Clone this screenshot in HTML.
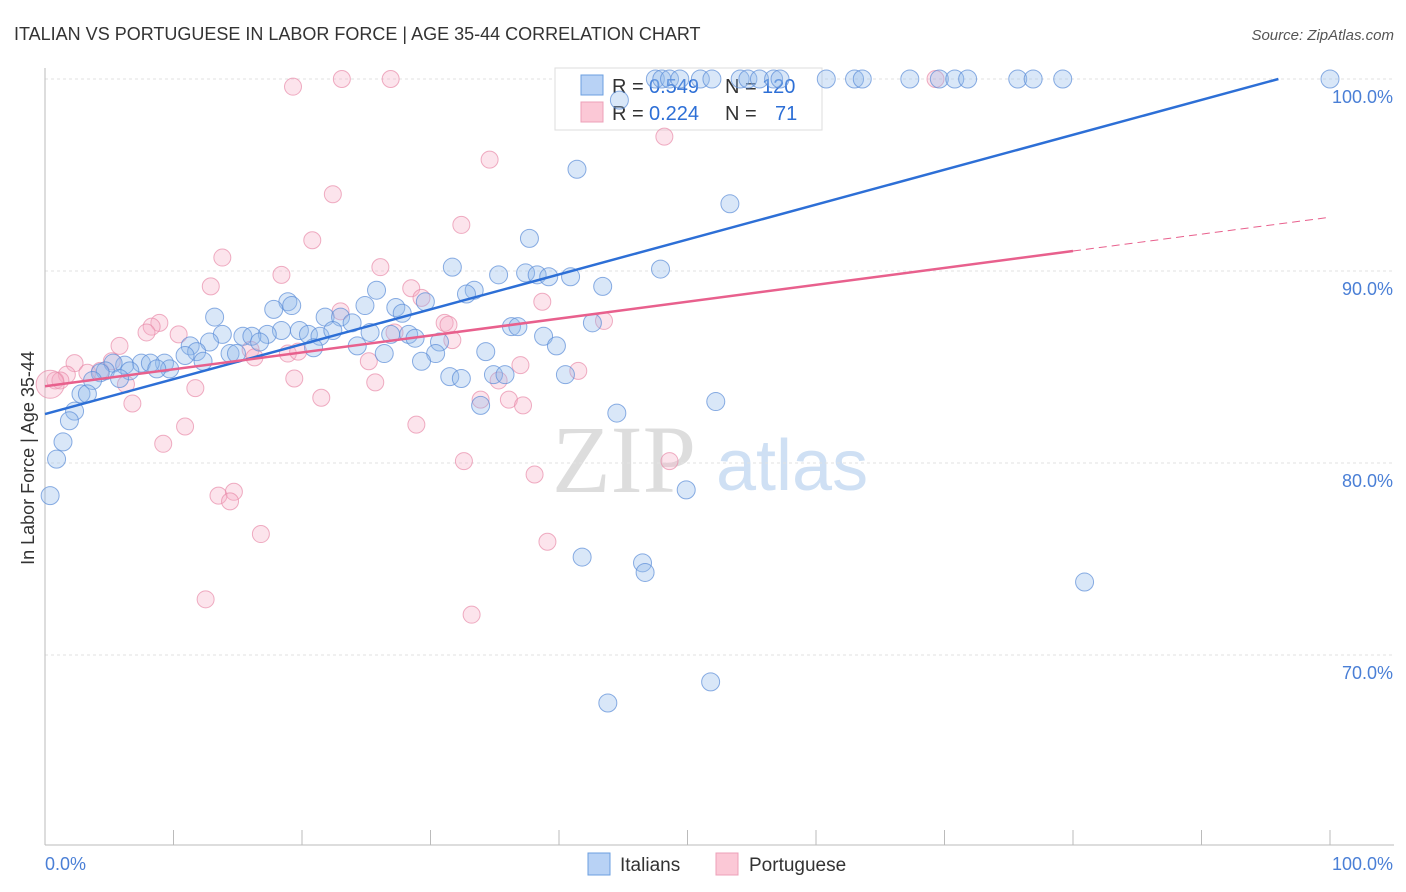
<!DOCTYPE html>
<html><head><meta charset="utf-8"><style>
body{margin:0;background:#fff;font-family:"Liberation Sans",sans-serif}
svg{display:block}
</style></head><body>
<svg id="chart" width="1406" height="892">
<text x="14" y="40" font-size="18" fill="#333">ITALIAN VS PORTUGUESE IN LABOR FORCE | AGE 35-44 CORRELATION CHART</text>
<text x="1394" y="40" font-size="15" fill="#555" text-anchor="end" font-style="italic">Source: ZipAtlas.com</text>
<g><text x="552" y="492" font-size="96" font-family="Liberation Serif,serif" fill="#ddd">ZIP</text><text x="716" y="490" font-size="72" fill="#cfe0f4">atlas</text></g>
<g id="grid"></g><g id="axes"></g>
<g>
<rect x="555" y="68" width="267" height="62" fill="#fff" stroke="#ddd"/>
<rect x="581" y="75" width="22" height="20" fill="#b8d2f5" stroke="#6b9fe0"/>
<rect x="581" y="102" width="22" height="20" fill="#fbc8d6" stroke="#eda0b8"/>
<text x="612" y="93" font-size="20" fill="#333">R =</text><text x="649" y="93" font-size="20" fill="#2d6fd6">0.549</text>
<text x="725" y="93" font-size="20" fill="#333">N =</text><text x="762" y="93" font-size="20" fill="#2d6fd6">120</text>
<text x="612" y="120" font-size="20" fill="#333">R =</text><text x="649" y="120" font-size="20" fill="#2d6fd6">0.224</text>
<text x="725" y="120" font-size="20" fill="#333">N =</text><text x="775" y="120" font-size="20" fill="#2d6fd6">71</text>
</g>
<g id="pts"></g><g id="lines"></g>
<text transform="translate(34,458) rotate(-90)" font-size="18" fill="#333" text-anchor="middle">In Labor Force | Age 35-44</text>
<g>
<rect x="588" y="853" width="22" height="22" fill="#b8d2f5" stroke="#6b9fe0"/>
<text x="620" y="871" font-size="19" fill="#333">Italians</text>
<rect x="716" y="853" width="22" height="22" fill="#fbc8d6" stroke="#eda0b8"/>
<text x="749" y="871" font-size="19" fill="#333">Portuguese</text>
</g>
</svg>
<script>
const yTicks=[70,80,90,100];
const yTickLabels=["70.0%","80.0%","90.0%","100.0%"];
const xTickLabels=["0.0%","100.0%"];
const blueX=[47.5,48.0,48.6,49.4,51.0,51.9,54.1,54.7,55.6,56.7,57.2,60.8,63.0,63.6,67.3,69.6,70.8,71.8,75.7,76.9,79.2,100,44.7,41.4,53.3,37.7,31.7,35.3,37.4,38.3,39.2,40.9,47.9,43.4,33.4,32.8,25.8,18.9,19.2,17.8,24.9,27.3,27.8,29.6,13.2,21.8,23.0,23.9,19.8,20.5,18.4,17.3,13.8,15.4,16.1,16.7,21.4,22.4,25.3,26.9,28.3,28.8,30.7,36.3,36.8,38.8,39.8,42.6,12.8,11.3,11.8,10.9,14.4,14.9,20.9,24.3,26.4,30.4,29.3,34.3,9.3,7.5,8.2,6.2,5.3,12.3,9.7,8.7,6.6,4.7,4.3,5.8,3.7,31.5,32.4,34.9,35.8,40.5,2.8,3.3,2.3,1.9,1.4,0.9,0.4,33.9,44.5,52.2,49.9,41.8,46.5,46.7,80.9,51.8,43.8];
const blueY=[100,100,100,100,100,100,100,100,100,100,100,100,100,100,100,100,100,100,100,100,100,100,98.9,95.3,93.5,91.7,90.2,89.8,89.9,89.8,89.7,89.7,90.1,89.2,89.0,88.8,89.0,88.4,88.2,88.0,88.2,88.1,87.8,88.4,87.6,87.6,87.6,87.3,86.9,86.7,86.9,86.7,86.7,86.6,86.6,86.3,86.6,86.9,86.8,86.7,86.7,86.5,86.3,87.1,87.1,86.6,86.1,87.3,86.3,86.1,85.8,85.6,85.7,85.7,86.0,86.1,85.7,85.7,85.3,85.8,85.2,85.2,85.2,85.1,85.2,85.3,84.9,84.9,84.8,84.8,84.7,84.4,84.3,84.5,84.4,84.6,84.6,84.6,83.6,83.6,82.7,82.2,81.1,80.2,78.3,83.0,82.6,83.2,78.6,75.1,74.8,74.3,73.8,68.6,67.5];
const pinkX=[19.3,23.1,26.9,69.3,34.6,48.2,22.4,32.4,20.8,13.8,26.1,18.4,12.9,28.5,29.3,38.7,8.9,8.3,7.9,10.4,23.0,31.1,31.4,31.7,43.5,5.8,16.0,16.3,18.9,19.7,27.2,25.2,2.3,5.2,3.3,1.7,0.8,1.2,4.3,37.0,41.5,19.4,25.7,35.3,6.3,11.7,21.5,33.9,36.1,37.2,6.8,10.9,28.9,9.2,32.6,48.6,38.1,13.5,14.7,14.4,16.8,39.1,12.5,33.2,0.4];
const pinkY=[99.6,100,100,100,95.8,97.0,94.0,92.4,91.6,90.7,90.2,89.8,89.2,89.1,88.6,88.4,87.3,87.1,86.8,86.7,87.9,87.3,87.2,86.4,87.4,86.1,85.9,85.5,85.7,85.8,86.8,85.3,85.2,85.3,84.7,84.6,84.3,84.3,84.8,85.1,84.8,84.4,84.2,84.3,84.1,83.9,83.4,83.3,83.3,83.0,83.1,81.9,82.0,81.0,80.1,80.1,79.4,78.3,78.5,78.0,76.3,75.9,72.9,72.1,84.1];
const blueTrend=[82.55,0.1818];
const pinkTrend=[84.0,0.088];
const X=v=>45+v*12.85, Y=v=>79+(100-v)*19.2;
const NS="http://www.w3.org/2000/svg";
function mk(p,t,a){const e=document.createElementNS(NS,t);for(const k in a)e.setAttribute(k,a[k]);p.appendChild(e);return e;}
const grid=document.getElementById('grid'),axes=document.getElementById('axes'),pts=document.getElementById('pts'),lines=document.getElementById('lines');
yTicks.forEach((t,i)=>{
 const g=mk(grid,'line',{x1:45,x2:1394,y1:Y(t),y2:Y(t),stroke:'#e2e2e2','stroke-dasharray':'3,3'});
 
 
 const l=mk(axes,'text',{x:1393,y:Y(t)+24,'font-size':18,fill:'#4a7fd6','text-anchor':'end'});
 l.textContent=yTickLabels[i];
 
 
});
const ya=mk(axes,'line',{x1:45,x2:45,y1:68,y2:845,stroke:'#bbb'});


const xa=mk(axes,'line',{x1:45,x2:1394,y1:845,y2:845,stroke:'#bbb'});


for(let i=0;i<=10;i++){const t=mk(axes,'line',{x1:X(i*10),x2:X(i*10),y1:830,y2:845,stroke:'#bbb'});
 
 }
const x0=mk(axes,'text',{x:45,y:870,'font-size':18,fill:'#4a7fd6'});x0.textContent=xTickLabels[0];


const x1=mk(axes,'text',{x:1393,y:870,'font-size':18,fill:'#4a7fd6','text-anchor':'end'});x1.textContent=xTickLabels[1];


pinkX.forEach((x,i)=>{const c=mk(pts,'circle',{cx:X(x),cy:Y(pinkY[i]),r:i==pinkX.length-1?14:8.5,fill:'rgba(246,170,195,0.32)',stroke:'rgba(232,140,170,0.7)','stroke-width':1});
 
 });
blueX.forEach((x,i)=>{const c=mk(pts,'circle',{cx:X(x),cy:Y(blueY[i]),r:9,fill:'rgba(145,185,236,0.35)',stroke:'rgba(90,140,215,0.7)','stroke-width':1});
 
 });
const bx=(100-blueTrend[0])/blueTrend[1];
const bl=mk(lines,'line',{x1:X(0),y1:Y(blueTrend[0]),x2:X(bx),y2:Y(100),stroke:'#2d6fd6','stroke-width':2.5});


const pl=mk(lines,'line',{x1:X(0),y1:Y(pinkTrend[0]),x2:X(80),y2:Y(pinkTrend[0]+80*pinkTrend[1]),stroke:'#e8608d','stroke-width':2.5});


const pd=mk(lines,'line',{x1:X(80),y1:Y(pinkTrend[0]+80*pinkTrend[1]),x2:X(100),y2:Y(pinkTrend[0]+100*pinkTrend[1]),stroke:'#e8608d','stroke-width':1,'stroke-dasharray':'8,5'});


</script>
</body></html>
